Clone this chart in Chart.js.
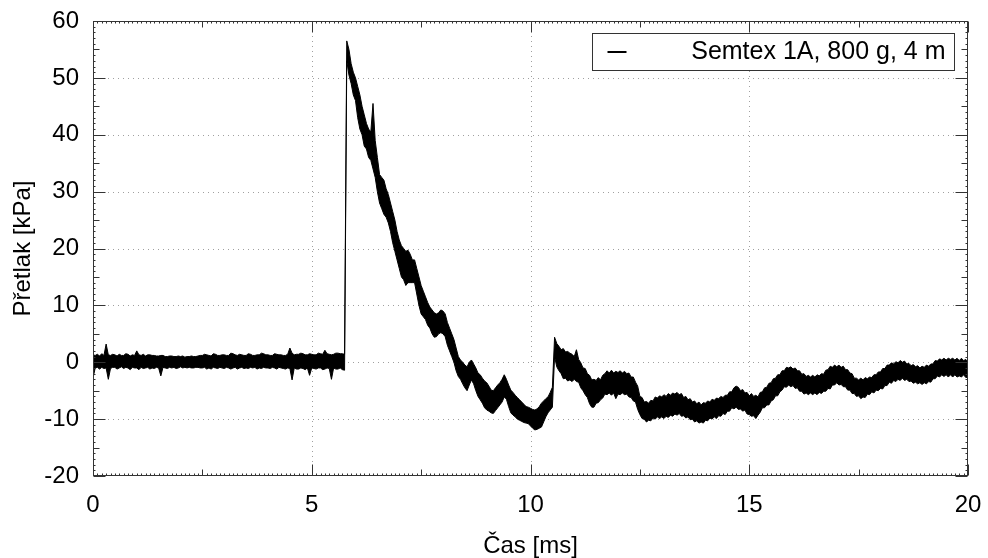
<!DOCTYPE html>
<html>
<head>
<meta charset="utf-8">
<script src="https://cdn.jsdelivr.net/npm/chart.js@4.4.0/dist/chart.umd.min.js"></script>
<style>
  html, body { margin: 0; padding: 0; background: #fff; }
</style>
</head>
<body>
<canvas id="pressureChart" width="988" height="558"></canvas>
<script>
// labels
const seriesLabel = "Semtex 1A, 800 g, 4 m";
const xTitle = "Čas [ms]";
const yTitle = "Přetlak [kPa]";
const xTicks = [0, 5, 10, 15, 20];
const yTicks = [-20, -10, 0, 10, 20, 30, 40, 50, 60];

// noisy pressure record, read as the top and bottom of the trace
// in each 0.05 ms window, starting at 0 ms
const sampleStepMs = 0.05;
const upperKpa = [
  1.3, 1.2, 1.4, 1.1, 1.5, 1.2, 3.2, 1.3, 1.2, 1.4,
  1.3, 1.1, 1.4, 1.2, 1.2, 1.5, 1.4, 1.1, 1.3, 1.2,
  2.0, 1.3, 1.2, 1.4, 1.1, 1.3, 1.3, 1.2, 1.2, 1.1,
  1.1, 1.2, 1.2, 1.0, 1.0, 1.1, 1.1, 1.0, 1.0, 1.1,
  1.0, 1.1, 0.9, 1.0, 1.0, 1.1, 1.0, 1.0, 1.1, 1.2,
  1.2, 1.4, 1.3, 1.2, 1.1, 1.5, 1.4, 1.2, 1.2, 1.3,
  1.3, 1.2, 1.2, 1.6, 1.5, 1.3, 1.2, 1.4, 1.3, 1.2,
  1.2, 1.5, 1.4, 1.2, 1.2, 1.3, 1.3, 1.6, 1.5, 1.3,
  1.3, 1.2, 1.2, 1.5, 1.4, 1.3, 1.3, 1.2, 1.2, 1.4,
  2.5, 1.6, 1.3, 1.4, 1.4, 1.6, 1.5, 1.3, 1.3, 1.5,
  1.4, 1.3, 1.3, 1.6, 1.5, 1.4, 2.1, 1.5, 1.4, 1.3,
  1.4, 1.6, 1.6, 1.5, 1.5, 1.4, 56.5, 55, 52.5, 51,
  50, 48.5, 47, 45, 43.5, 42, 41, 40.5, 45.5, 39,
  36, 33, 32.5, 32, 30.5, 29.5, 28, 26.5, 25, 23,
  21.5, 20.5, 20, 19.5, 19.7, 19, 18, 18, 16.5, 15,
  13.5, 12.5, 11.5, 10.5, 9.7, 9.2, 8.7, 8.5, 8.7, 9.2,
  9, 8.5, 7, 6, 5, 4, 2.5, 1, 0.4, 0,
  -0.5, -0.8, 0, 0.4, -0.3, -1, -1.9, -2.2, -2.8, -3.3,
  -3.6, -4.2, -4.9, -5, -4.5, -4, -3.6, -3, -2.2, -3,
  -4, -4.9, -5.3, -5.8, -6.2, -6.6, -7, -7.4, -7.8, -7.9,
  -8.1, -8.3, -8.4, -8.2, -7.8, -7.2, -6.8, -6.4, -6.1, -5.3,
  -4.4, 4.4, 3.3, 2.8, 2.2, 2.4, 1.8, 1.9, 1.6, 1.4,
  1, 2.2, 0.5, -0.1, -1, -1.1, -2, -2.3, -3.1, -3.0,
  -3.2, -2.7, -3.1, -2.3, -2.0, -1.5, -1.9, -1.4, -1.9, -1.6,
  -1.8, -1.5, -1.9, -1.6, -2, -1.9, -2.6, -2.6, -3.5, -4.2,
  -6, -6.2, -7, -6.9, -7.2, -6.7, -6.8, -6.1, -6.3, -5.9,
  -6.1, -5.7, -6, -5.5, -5.8, -5.4, -5.6, -5.3, -5.7, -5.5,
  -6.2, -6.0, -6.6, -6.4, -7, -6.8, -7.3, -7.0, -7.5, -7.1,
  -7.2, -6.8, -7, -6.5, -6.7, -6.3, -6.4, -6.0, -6.2, -5.8,
  -5.8, -5.2, -5.2, -4.5, -4.2, -4.4, -5, -4.8, -5.4, -5.3,
  -5.9, -5.5, -6, -5.8, -6.1, -5.3, -5.2, -4.5, -4.4, -3.7,
  -3.6, -2.9, -2.8, -2.2, -2.2, -1.5, -1.5, -0.9, -1, -0.8,
  -1.2, -1.0, -1.5, -1.5, -2.1, -2.0, -2.5, -2.3, -2.6, -2.3,
  -2.6, -2.2, -2.4, -2.0, -2.1, -1.4, -1.3, -0.7, -0.9, -0.5,
  -0.8, -0.5, -0.9, -0.7, -1.3, -1.3, -1.9, -2.0, -2.8, -2.8,
  -3.1, -2.8, -3.1, -2.7, -2.9, -2.6, -2.7, -2.2, -2.2, -1.7,
  -1.7, -1.1, -1.1, -0.5, -0.5, -0.1, -0.3, 0.1, -0.1, 0.3,
  0, 0.2, -0.3, -0.2, -0.6, -0.4, -0.8, -0.6, -1, -0.7,
  -0.9, -0.5, -0.7, -0.3, -0.3, 0.3, 0.2, 0.6, 0.4, 0.7,
  0.4, 0.7, 0.5, 0.7, 0.4, 0.7, 0.3, 0.7, 0.3, 0.5,
  0
];
const lowerKpa = [
  -2.8, -1.0, -0.9, -1.2, -0.9, -1.1, -1.0, -3.0, -1.1, -0.9,
  -0.9, -1.2, -1.0, -0.8, -1.1, -0.9, -1.0, -1.3, -0.9, -1.0,
  -1.0, -1.3, -0.9, -1.1, -1.0, -0.9, -1.2, -1.0, -1.1, -0.9,
  -1.0, -2.4, -0.9, -1.0, -1.1, -0.9, -1.0, -0.9, -1.1, -1.0,
  -0.8, -1.0, -0.9, -1.0, -0.9, -1.0, -1.0, -0.9, -0.9, -1.0,
  -1.0, -0.9, -1.2, -1.0, -1.2, -0.9, -1.0, -1.1, -0.9, -1.0,
  -1.1, -0.9, -1.0, -1.2, -1.0, -0.9, -1.2, -1.0, -0.9, -1.1,
  -1.0, -1.1, -0.9, -1.0, -0.9, -1.2, -1.0, -1.1, -0.9, -1.0,
  -1.0, -1.1, -0.9, -1.0, -1.2, -0.9, -1.0, -1.1, -1.2, -1.0,
  -1.1, -3.1, -1.0, -1.2, -1.2, -1.0, -1.1, -1.3, -1.0, -2.3,
  -1.0, -1.1, -1.2, -1.0, -1.0, -1.3, -1.2, -1.0, -1.1, -3.0,
  -1.0, -1.2, -1.2, -1.0, -1.3, -1.4, 53, 50.5, 49, 47,
  46, 43, 41, 40, 38, 37.5, 36, 35.5, 34, 32.5,
  30, 28, 27, 26, 25.5, 24.5, 23, 21, 19.5, 18,
  16.5, 15, 14.5, 13.5, 14, 14, 14, 14, 12, 10,
  8.5, 8, 7.5, 6.5, 6, 5, 4.4, 4.5, 5, 5.2,
  5, 4.5, 3, 2, 1, 0, -1.5, -2.5, -3, -3.8,
  -4.5, -5, -4, -3.1, -3.8, -5, -6, -6.6, -7.2, -8,
  -8.4, -8.6, -8.9, -9, -8.5, -8, -7.5, -7, -6.1, -6.5,
  -7.8, -8.9, -9.3, -9.6, -10, -10.2, -10.4, -10.6, -10.7, -10.8,
  -11.2, -11.6, -11.9, -11.8, -11.6, -11.4, -10.5, -9.6, -8.9, -8.4,
  -7.9, 1, -0.8, -1.5, -2, -2.9, -2.8, -3.3, -3.1, -3.4,
  -3, -3.4, -3.5, -4.5, -5, -5.7, -6.2, -7.3, -7.9, -7.9,
  -7.2, -7.1, -6.6, -6.3, -5.6, -5.7, -5.4, -5.8, -5.4, -6.4,
  -5.6, -5.7, -5.4, -5.7, -5.6, -6.1, -6.2, -6.8, -7, -8.3,
  -9.2, -9.9, -10, -10.5, -10.2, -10.3, -9.8, -10.0, -9.6, -9.9,
  -9.6, -9.9, -9.5, -9.7, -9.3, -9.5, -9.1, -9.3, -9.0, -9.5,
  -9.4, -9.8, -9.6, -10.1, -10, -10.5, -10.3, -10.7, -10.5, -10.7,
  -10.2, -10.3, -9.8, -10.0, -9.6, -9.9, -9.4, -9.5, -9, -9.2,
  -8.6, -8.6, -8, -8.2, -7.9, -8.3, -8.2, -8.6, -8.4, -9.1,
  -9.2, -9.5, -9.4, -9.9, -9.3, -8.8, -8, -8.0, -7.5, -7.5,
  -6.8, -6.6, -5.9, -5.9, -5.2, -4.9, -4.3, -4.4, -4, -4.3,
  -4.1, -4.6, -4.5, -5.1, -5.1, -5.6, -5.4, -5.7, -5.4, -5.7,
  -5.4, -5.7, -5.3, -5.5, -5.1, -5.1, -4.6, -4.7, -4, -4.0,
  -3.6, -4.0, -3.9, -4.3, -4.3, -4.9, -4.9, -5.5, -5.5, -6.0,
  -5.9, -6.4, -6.1, -6.2, -5.6, -5.7, -5.2, -5.4, -4.9, -5.0,
  -4.6, -4.7, -4.1, -4.1, -3.5, -3.7, -3.2, -3.4, -3, -3.2,
  -2.8, -3.2, -3, -3.4, -3.3, -3.7, -3.5, -3.8, -3.6, -3.9,
  -3.6, -3.8, -3.4, -3.5, -2.9, -2.9, -2.4, -2.6, -2.2, -2.5,
  -2.2, -2.6, -2.2, -2.6, -2.2, -2.6, -2.4, -2.6, -2.2, -2.7,
  -2.6
];

const timeMs = upperKpa.map((_, i) => +(i * sampleStepMs).toFixed(2));
const upperPoints = upperKpa.map((p, i) => ({ x: timeMs[i], y: p }));
const lowerPoints = lowerKpa.map((p, i) => ({ x: timeMs[i], y: p }));

const FONT = "Arial, 'Liberation Sans', sans-serif";

// grid, frame and inward ticks like the original plot
const framePlugin = {
  id: "frame",
  beforeDatasetsDraw(chart) {
    const { ctx, chartArea: a, scales: { x, y } } = chart;
    ctx.save();
    ctx.strokeStyle = "#a0a0a0";
    ctx.lineWidth = 1;
    ctx.setLineDash([1, 4]);
    xTicks.slice(1, -1).forEach(v => {
      const px = Math.round(x.getPixelForValue(v)) + 0.5;
      ctx.beginPath(); ctx.moveTo(px, a.top); ctx.lineTo(px, a.bottom); ctx.stroke();
    });
    yTicks.slice(1, -1).forEach(v => {
      const py = Math.round(y.getPixelForValue(v)) + 0.5;
      ctx.beginPath(); ctx.moveTo(a.left, py); ctx.lineTo(a.right, py); ctx.stroke();
    });
    ctx.restore();
  },
  afterDatasetsDraw(chart) {
    const { ctx, chartArea: a, scales: { x, y } } = chart;
    const L = Math.round(a.left) + 0.5, R = Math.round(a.right) - 0.5;
    const T = Math.round(a.top) + 0.5, B = Math.round(a.bottom) - 0.5;
    ctx.save();
    ctx.strokeStyle = "#333";
    ctx.lineWidth = 1;
    ctx.beginPath();
    // x ticks: every 0.1 ms small, 2.5 ms medium, 5 ms large
    for (let k = 0; k <= 200; k++) {
      const len = k % 50 === 0 ? 11 : (k % 25 === 0 ? 6 : 2);
      const px = Math.round(x.getPixelForValue(k / 10)) + 0.5;
      ctx.moveTo(px, B); ctx.lineTo(px, B - len);
      ctx.moveTo(px, T); ctx.lineTo(px, T + len);
    }
    // y ticks: every 1 kPa small, 5 medium, 10 large
    for (let k = -20; k <= 60; k++) {
      const len = k % 10 === 0 ? 12 : (k % 5 === 0 ? 6 : 2);
      const py = Math.round(y.getPixelForValue(k)) + 0.5;
      ctx.moveTo(L, py); ctx.lineTo(L + len, py);
      ctx.moveTo(R, py); ctx.lineTo(R - len, py);
    }
    ctx.stroke();
    ctx.strokeRect(L, T, R - L, B - T);
    ctx.restore();
  }
};

const seriesBox = {
  id: "seriesBox",
  afterDraw(chart) {
    const { ctx, chartArea: a } = chart;
    const w = 362, h = 37;
    const left = Math.round(a.right - 14 - w) + 0.5, top = Math.round(a.top + 12) + 0.5;
    ctx.save();
    ctx.fillStyle = "#fff";
    ctx.fillRect(left, top, w, h);
    ctx.strokeStyle = "#333";
    ctx.lineWidth = 1;
    ctx.strokeRect(left, top, w, h);
    ctx.strokeStyle = "#000";
    ctx.lineWidth = 2;
    ctx.beginPath();
    ctx.moveTo(left + 15, top + 18.5);
    ctx.lineTo(left + 34, top + 18.5);
    ctx.stroke();
    ctx.fillStyle = "#000";
    ctx.font = "25px " + FONT;
    ctx.textAlign = "right";
    ctx.textBaseline = "alphabetic";
    ctx.fillText(chart.data.datasets[0].label, left + w - 9, top + 25);
    ctx.restore();
  }
};

new Chart(document.getElementById("pressureChart").getContext("2d"), {
  type: "line",
  data: {
    datasets: [
      {
        label: seriesLabel,
        data: upperPoints,
        borderColor: "#000",
        borderWidth: 1,
        pointRadius: 0,
        tension: 0,
        fill: false
      },
      {
        label: seriesLabel + " (min)",
        data: lowerPoints,
        borderColor: "#000",
        borderWidth: 1,
        backgroundColor: "#000",
        pointRadius: 0,
        tension: 0,
        fill: "-1"
      }
    ]
  },
  options: {
    responsive: false,
    animation: false,
    layout: { padding: { top: 21, right: 20, left: 0, bottom: 0 } },
    plugins: { legend: { display: false }, tooltip: { enabled: false } },
    scales: {
      x: {
        type: "linear",
        min: 0,
        max: 20,
        afterBuildTicks: s => { s.ticks = xTicks.map(v => ({ value: v })); },
        afterFit: s => { s.height = 82; s.paddingLeft = 0; s.paddingRight = 0; },
        grid: { display: false, drawTicks: false },
        border: { display: false },
        ticks: { color: "#000", font: { family: FONT, size: 24 }, padding: 15, maxRotation: 0 },
        title: { display: true, text: xTitle, color: "#000", font: { family: FONT, size: 24, lineHeight: 1.0 }, padding: 0 }
      },
      y: {
        type: "linear",
        min: -20,
        max: 60,
        afterBuildTicks: s => { s.ticks = yTicks.map(v => ({ value: v })); },
        afterFit: s => { s.width = 93; s.paddingTop = 0; s.paddingBottom = 0; },
        grid: { display: false, drawTicks: false },
        border: { display: false },
        ticks: { color: "#000", font: { family: FONT, size: 24 }, padding: 14 },
        title: { display: true, text: yTitle, color: "#000", font: { family: FONT, size: 24 }, padding: { top: 9, bottom: 0 } }
      }
    }
  },
  plugins: [framePlugin, seriesBox]
});
</script>
</body>
</html>
